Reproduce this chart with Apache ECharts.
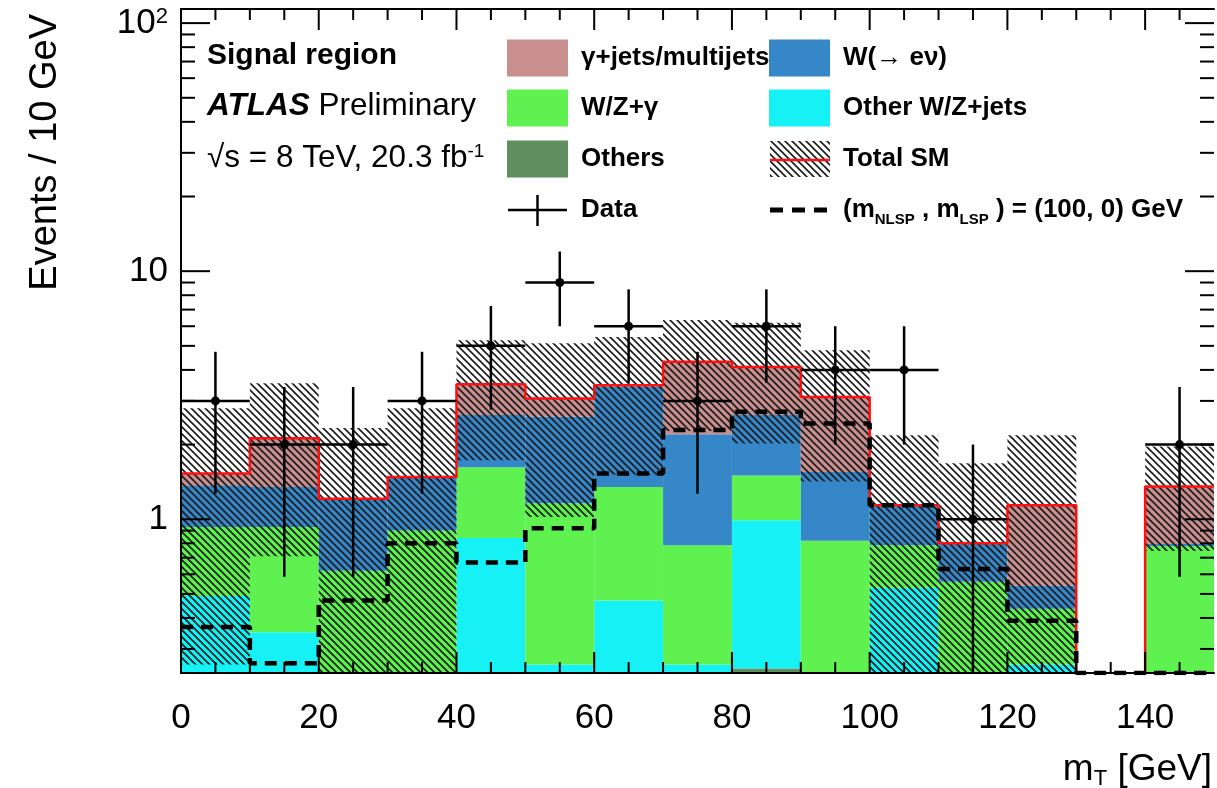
<!DOCTYPE html>
<html>
<head>
<meta charset="utf-8">
<script src="https://cdn.jsdelivr.net/npm/echarts@6/dist/echarts.min.js"></script>
<style>
  html, body { margin: 0; padding: 0; background: #ffffff; }
  #chart { width: 1217px; height: 788px; }
</style>
</head>
<body>
<div id="chart"></div>
<script>
// ---- Histogram content: m_T in 10 GeV bins, events per bin ----
const binEdges = [0, 10, 20, 30, 40, 50, 60, 70, 80, 90, 100, 110, 120, 130, 140, 150];

// Background components, listed from the bottom of the stack upwards
const others       = [0, 0, 0, 0, 0, 0, 0, 0, 0.25, 0, 0, 0, 0, 0, 0];
const otherWZjets  = [0.49, 0.35, 0, 0, 0.84, 0.26, 0.47, 0.26, 0.74, 0, 0.53, 0, 0.26, 0, 0];
const wzGamma      = [0.44, 0.58, 0.62, 0.90, 0.78, 0.90, 0.88, 0.525, 0.51, 0.82, 0.255, 0.56, 0.176, 0, 0.78];
const wEnu         = [0.44, 0.42, 0.59, 0.58, 1.01, 1.43, 2.07, 1.415, 1.13, 0.73, 0.345, 0.24, 0.104, 0, 0.015];
const gammaJets    = [0.16, 0.77, 0, 0, 0.87, 0.48, 0.05, 2.11, 1.48, 1.56, 0.01, 0, 0.60, 0, 0.56];

// Uncertainty on the total SM prediction (hatched band)
const totalErr     = [1.27, 1.41, 1.12, 1.32, 1.77, 2.05, 1.96, 2.04, 2.09, 1.69, 1.04, 0.88, 1.04, 0, 0.61];

// Observed events
const dataCounts   = [3, 2, 2, 3, 5, 9, 6, 3, 6, 4, 4, 1, 0, 0, 2];

// Signal point (m_NLSP, m_LSP) = (100, 0) GeV
const signal       = [0.368, 0.263, 0.47, 0.80, 0.67, 0.92, 1.53, 2.29, 2.71, 2.43, 1.14, 0.63, 0.39, 0, 0];

// Axis ranges and tick values
const X_MIN = 0, X_MAX = 150;
const Y_MIN = 0.24, Y_MAX = 114;
const xMajorTicks = [0, 20, 40, 60, 80, 100, 120, 140];
const xMinorTicks = [5, 10, 15, 25, 30, 35, 45, 50, 55, 65, 70, 75, 85, 90, 95, 105, 110, 115, 125, 130, 135, 145];
const yMajorTicks = [1, 10, 100];
const yMinorTicks = [0.3, 0.4, 0.5, 0.6, 0.7, 0.8, 0.9, 2, 3, 4, 5, 6, 7, 8, 9, 20, 30, 40, 50, 60, 70, 80, 90];

const FONT = 'Liberation Sans, Arial, Helvetica, sans-serif';

const components = [
  { name: 'Others',           values: others,      color: '#5f8f5f' },
  { name: 'Other W/Z+jets',   values: otherWZjets, color: '#16f1f6' },
  { name: 'W/Z+γ',            values: wzGamma,     color: '#5ef150' },
  { name: 'W(→ eν)',          values: wEnu,        color: '#3587c8' },
  { name: 'γ+jets/multijets', values: gammaJets,   color: '#c98f8f' }
];

// Diagonal hatch tile for the uncertainty band
function makeHatch() {
  const s = 7;
  const c = document.createElement('canvas');
  c.width = s; c.height = s;
  const g = c.getContext('2d');
  g.strokeStyle = '#1a1a1a';
  g.lineWidth = 1.6;
  g.beginPath();
  g.moveTo(-1, -1); g.lineTo(s + 1, s + 1);
  g.moveTo(-2, s - 2); g.lineTo(2, s + 2);
  g.moveTo(s - 2, -2); g.lineTo(s + 2, 2);
  g.stroke();
  return { image: c, repeat: 'repeat' };
}
const hatch = makeHatch();

const nBins = binEdges.length - 1;
const totals = [];
for (let i = 0; i < nBins; i++) {
  let t = 0;
  components.forEach(function (c) { t += c.values[i]; });
  totals.push(t);
}

// Rectangle drawn between two y values across a bin
function rectRenderer(fill) {
  return function (params, api) {
    const x0 = api.value(0), x1 = api.value(1);
    const lo = Math.max(api.value(2), Y_MIN), hi = Math.min(api.value(3), Y_MAX);
    if (!(hi > lo)) return;
    const a = api.coord([x0, hi]), b = api.coord([x1, lo]);
    return {
      type: 'rect',
      shape: { x: a[0], y: a[1], width: b[0] - a[0], height: b[1] - a[1] },
      style: { fill: fill, stroke: null }
    };
  };
}

const series = [];

// Stacked backgrounds
const cumulative = new Array(nBins).fill(0);
components.forEach(function (comp) {
  const items = [];
  for (let i = 0; i < nBins; i++) {
    const lo = cumulative[i], hi = cumulative[i] + comp.values[i];
    if (comp.values[i] > 0) items.push([binEdges[i], binEdges[i + 1], Math.max(lo, Y_MIN), hi]);
    cumulative[i] = hi;
  }
  series.push({
    type: 'custom', name: comp.name, z: 2,
    encode: { x: [0, 1], y: [2, 3] },
    renderItem: rectRenderer(comp.color),
    data: items, silent: true
  });
});

// Uncertainty band on the total
const bandItems = [];
for (let i = 0; i < nBins; i++) {
  if (totalErr[i] > 0) {
    bandItems.push([binEdges[i], binEdges[i + 1], Math.max(totals[i] - totalErr[i], Y_MIN), totals[i] + totalErr[i]]);
  }
}
series.push({
  type: 'custom', name: 'Total SM band', z: 3,
  encode: { x: [0, 1], y: [2, 3] },
  renderItem: rectRenderer(hatch),
  data: bandItems, silent: true
});

// Total SM outline
const totalLine = [];
for (let i = 0; i < nBins; i++) {
  const v = totals[i] > 0 ? totals[i] : Y_MIN * 0.5;
  totalLine.push([binEdges[i], v], [binEdges[i + 1], v]);
}
series.push({
  type: 'line', name: 'Total SM', z: 4, data: totalLine,
  symbol: 'none', showSymbol: false, clip: true, silent: true,
  lineStyle: { color: '#ff1010', width: 2.5 }
});

// Signal histogram
const signalLine = [];
for (let i = 0; i < nBins; i++) {
  const v = signal[i] > 0 ? signal[i] : Y_MIN;
  signalLine.push([binEdges[i], v], [binEdges[i + 1], v]);
}
series.push({
  type: 'line', name: 'Signal', z: 5, data: signalLine,
  symbol: 'none', showSymbol: false, clip: true, silent: true,
  lineStyle: { color: '#000000', width: 4.5, type: [12, 8], cap: 'butt' }
});

// Data points with sqrt(N) error bars
const dataItems = [];
for (let i = 0; i < nBins; i++) dataItems.push([binEdges[i], binEdges[i + 1], dataCounts[i] > 0 ? dataCounts[i] : 1, dataCounts[i]]);
series.push({
  type: 'custom', name: 'Data', z: 6,
  encode: { x: [0, 1], y: 2 },
  data: dataItems, silent: true,
  renderItem: function (params, api) {
    const x0 = api.value(0), x1 = api.value(1), n = api.value(3);
    if (!(n > 0)) return;
    const e = Math.sqrt(n);
    const xc = (x0 + x1) / 2;
    const c = api.coord([xc, n]);
    const l = api.coord([x0, n]), r = api.coord([x1, n]);
    const top = api.coord([xc, Math.min(n + e, Y_MAX)]);
    const bot = api.coord([xc, Math.max(n - e, Y_MIN)]);
    const st = { stroke: '#000', lineWidth: 2.5 };
    return {
      type: 'group',
      children: [
        { type: 'line', shape: { x1: l[0], y1: c[1], x2: r[0], y2: c[1] }, style: st },
        { type: 'line', shape: { x1: c[0], y1: top[1], x2: c[0], y2: bot[1] }, style: st },
        { type: 'circle', shape: { cx: c[0], cy: c[1], r: 4.5 }, style: { fill: '#000' } }
      ]
    };
  }
});

// Inward ticks on all four sides of the frame
const tickItems = [];
xMajorTicks.forEach(function (v) { tickItems.push([v, 1]); });
xMinorTicks.forEach(function (v) { tickItems.push([v, 2]); });
yMajorTicks.forEach(function (v) { tickItems.push([v, 3]); });
yMinorTicks.forEach(function (v) { tickItems.push([v, 4]); });
series.push({
  type: 'custom', name: 'ticks', z: 20,
  encode: { x: 0, y: 1 },
  data: tickItems, silent: true,
  renderItem: function (params, api) {
    const v = api.value(0), kind = api.value(1);
    const st = { stroke: '#000', lineWidth: 2 };
    if (kind <= 2) {
      const len = kind === 1 ? 21 : 11;
      const b = api.coord([v, Y_MIN]), t = api.coord([v, Y_MAX]);
      return { type: 'group', children: [
        { type: 'line', shape: { x1: b[0], y1: b[1], x2: b[0], y2: b[1] - len }, style: st },
        { type: 'line', shape: { x1: t[0], y1: t[1], x2: t[0], y2: t[1] + len }, style: st }
      ] };
    }
    const len = kind === 3 ? 29 : 14;
    const l = api.coord([X_MIN, v]), r = api.coord([X_MAX, v]);
    return { type: 'group', children: [
      { type: 'line', shape: { x1: l[0], y1: l[1], x2: l[0] + len, y2: l[1] }, style: st },
      { type: 'line', shape: { x1: r[0], y1: r[1], x2: r[0] - len, y2: r[1] }, style: st }
    ] };
  }
});

// Legend and plot labels
const legendRows = [58, 108, 159, 210];
const col1Box = 507, col2Box = 769, boxW = 61, boxH = 37;
const col1Text = 581, col2Text = 843;
const legendFont = { fontSize: 26, fontWeight: 'bold', fontFamily: FONT, fill: '#000', verticalAlign: 'middle' };

function legendText(x, y, text, rich) {
  return { type: 'text', x: x, y: y, z: 30,
    style: Object.assign({ text: text, rich: rich || undefined }, legendFont) };
}
function legendBox(x, y, color) {
  return { type: 'rect', z: 30, shape: { x: x, y: y - boxH / 2, width: boxW, height: boxH }, style: { fill: color } };
}

const graphic = [
  // axis titles
  { type: 'text', x: 46, y: 14, rotation: Math.PI / 2, z: 30,
    style: { text: 'Events / 10 GeV', fontSize: 38, fontFamily: FONT, fill: '#000', align: 'right', verticalAlign: 'middle' } },
  { type: 'text', x: 1212, y: 770, z: 30,
    style: { text: 'm{sub|T} [GeV]', fontSize: 37, fontFamily: FONT, fill: '#000', align: 'right', verticalAlign: 'middle',
      rich: { sub: { fontSize: 22, fontFamily: FONT, fill: '#000', verticalAlign: 'bottom', padding: [18, 0, 0, 0] } } } },
  // plot labels
  { type: 'text', x: 207, y: 56, z: 30,
    style: { text: 'Signal region', fontSize: 30, fontWeight: 'bold', fontFamily: FONT, fill: '#000', verticalAlign: 'middle' } },
  { type: 'text', x: 207, y: 106, z: 30,
    style: { text: '{i|ATLAS} Preliminary', fontSize: 31.5, fontFamily: FONT, fill: '#000', verticalAlign: 'middle',
      rich: { i: { fontSize: 31.5, fontWeight: 'bold', fontStyle: 'italic', fontFamily: FONT, fill: '#000' } } } },
  { type: 'text', x: 207, y: 158, z: 30,
    style: { text: '√s = 8 TeV, 20.3 fb{sup|-1}', fontSize: 31.5, fontFamily: FONT, fill: '#000', verticalAlign: 'middle',
      rich: { sup: { fontSize: 19, fontFamily: FONT, fill: '#000', verticalAlign: 'top', padding: [0, 0, 12, 0] } } } },
  // first legend column
  legendBox(col1Box, legendRows[0], '#c98f8f'),
  legendText(col1Text, legendRows[0], 'γ+jets/multijets'),
  legendBox(col1Box, legendRows[1], '#5ef150'),
  legendText(col1Text, legendRows[1], 'W/Z+γ'),
  legendBox(col1Box, legendRows[2], '#5f8f5f'),
  legendText(col1Text, legendRows[2], 'Others'),
  { type: 'line', z: 30, shape: { x1: 508, y1: legendRows[3], x2: 567, y2: legendRows[3] }, style: { stroke: '#000', lineWidth: 2.5 } },
  { type: 'line', z: 30, shape: { x1: 537.5, y1: legendRows[3] - 15, x2: 537.5, y2: legendRows[3] + 16 }, style: { stroke: '#000', lineWidth: 2.5 } },
  legendText(col1Text, legendRows[3], 'Data'),
  // second legend column
  legendBox(col2Box, legendRows[0], '#3587c8'),
  legendText(col2Text, legendRows[0], 'W(→ eν)'),
  legendBox(col2Box, legendRows[1], '#16f1f6'),
  legendText(col2Text, legendRows[1], 'Other W/Z+jets'),
  { type: 'rect', z: 30, shape: { x: 770, y: legendRows[2] - 18, width: 60, height: 36 }, style: { fill: hatch } },
  { type: 'line', z: 31, shape: { x1: 770, y1: legendRows[2] + 1, x2: 830, y2: legendRows[2] + 1 }, style: { stroke: '#ff1010', lineWidth: 2.5 } },
  legendText(col2Text, legendRows[2], 'Total SM'),
  { type: 'line', z: 30, shape: { x1: 770, y1: legendRows[3], x2: 832, y2: legendRows[3] },
    style: { stroke: '#000', lineWidth: 5, lineDash: [13, 9] } },
  legendText(col2Text, legendRows[3], '(m{sub|NLSP} , m{sub|LSP} ) = (100, 0) GeV', {
    sub: { fontSize: 15, fontWeight: 'bold', fontFamily: FONT, fill: '#000', verticalAlign: 'bottom', padding: [20, 0, 0, 0] }
  })
];

const axisLineStyle = { show: true, lineStyle: { color: '#000', width: 2 } };
const axisLabelBase = { color: '#000', fontSize: 35, fontFamily: FONT };

const option = {
  animation: false,
  backgroundColor: '#ffffff',
  grid: { left: 181, top: 9, width: 1033, height: 664, containLabel: false, outerBoundsMode: 'none' },
  xAxis: [
    { type: 'value', position: 'bottom', min: X_MIN, max: X_MAX, interval: 20, z: 10,
      axisLine: axisLineStyle, axisTick: { show: false }, splitLine: { show: false },
      axisLabel: Object.assign({ margin: 28, showMaxLabel: false, showMinLabel: true }, axisLabelBase) },
    { type: 'value', position: 'top', min: X_MIN, max: X_MAX, interval: 20, z: 10,
      axisLine: axisLineStyle, axisTick: { show: false }, splitLine: { show: false }, axisLabel: { show: false } }
  ],
  yAxis: [
    { type: 'log', logBase: 10, position: 'left', min: Y_MIN, max: Y_MAX, z: 10,
      axisLine: axisLineStyle, axisTick: { show: false }, splitLine: { show: false },
      axisLabel: Object.assign({
        margin: 13, showMinLabel: false, showMaxLabel: false,
        formatter: function (v) {
          const lg = Math.log10(v), e = Math.round(lg);
          if (Math.abs(lg - e) > 1e-6) return '';
          if (e === 2) return '{b|10}{s|2}';
          return String(Math.round(Math.pow(10, e)));
        },
        rich: {
          b: { fontSize: 35, fontFamily: FONT, color: '#000' },
          s: { fontSize: 22, fontFamily: FONT, color: '#000', verticalAlign: 'top', padding: [0, 0, 10, 0] }
        }
      }, axisLabelBase) },
    { type: 'log', logBase: 10, position: 'right', min: Y_MIN, max: Y_MAX, z: 10,
      axisLine: axisLineStyle, axisTick: { show: false }, splitLine: { show: false }, axisLabel: { show: false } }
  ],
  series: series,
  graphic: graphic
};

const chart = echarts.init(document.getElementById('chart'), null, { renderer: 'canvas' });
chart.setOption(option);
</script>
</body>
</html>
